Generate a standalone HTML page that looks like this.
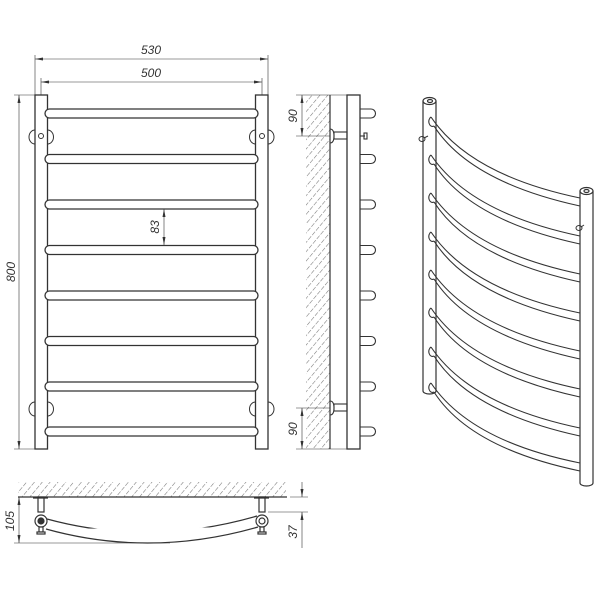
<!DOCTYPE html>
<html><head><meta charset="utf-8"><style>
html,body{margin:0;padding:0;background:#fff;}
svg{display:block;}
text{font-family:"Liberation Sans",sans-serif;font-style:italic;font-size:12px;fill:#333;}
</style></head><body>
<svg width="600" height="600" viewBox="0 0 600 600" xmlns="http://www.w3.org/2000/svg">
<defs>
<pattern id="h" width="6" height="6" patternUnits="userSpaceOnUse" patternTransform="rotate(40)">
<line x1="0" y1="0" x2="0" y2="6" stroke="#777" stroke-width="1.1" stroke-dasharray="3.5,1.5"/>
</pattern>
<marker id="a" markerWidth="8" markerHeight="6" refX="8" refY="3" orient="auto-start-reverse" markerUnits="userSpaceOnUse">
<path d="M0,1.5 L8,3 L0,4.5z" fill="#333"/></marker>
</defs>
<g stroke="#333" fill="none" stroke-width="1">
<line x1="35" y1="95" x2="35" y2="55" stroke-width="0.6"/>
<line x1="268" y1="95" x2="268" y2="55" stroke-width="0.6"/>
<line x1="41" y1="95" x2="41" y2="78" stroke-width="0.6"/>
<line x1="262" y1="95" x2="262" y2="78" stroke-width="0.6"/>
<line x1="35" y1="59" x2="268" y2="59" stroke-width="0.6" marker-start="url(#a)" marker-end="url(#a)"/>
<line x1="41" y1="82" x2="262" y2="82" stroke-width="0.6" marker-start="url(#a)" marker-end="url(#a)"/>
<line x1="14" y1="95" x2="35" y2="95" stroke-width="0.6"/>
<line x1="14" y1="449" x2="35" y2="449" stroke-width="0.6"/>
<line x1="19" y1="95" x2="19" y2="449" stroke-width="0.6" marker-start="url(#a)" marker-end="url(#a)"/>
<line x1="164" y1="209" x2="164" y2="245" stroke-width="0.6" marker-start="url(#a)" marker-end="url(#a)"/>
<rect x="35" y="95" width="12.5" height="354" fill="#fff" stroke-width="1.3"/>
<rect x="255.5" y="95" width="12.5" height="354" fill="#fff" stroke-width="1.3"/>
<g stroke-width="1">
<path d="M35,130 a6,7 0 0 0 0,14 M47.5,130 a6,7 0 0 1 0,14"/>
<circle cx="41" cy="136" r="2.5"/>
<path d="M255.5,130 a6,7 0 0 0 0,14 M268,130 a6,7 0 0 1 0,14"/>
<circle cx="262" cy="136" r="2.5"/>
<path d="M35,402 a6,7 0 0 0 0,14 M47.5,402 a6,7 0 0 1 0,14"/>
<path d="M255.5,402 a6,7 0 0 0 0,14 M268,402 a6,7 0 0 1 0,14"/>
</g>
<g stroke-width="1.3" fill="#fff">
<rect x="45" y="109" width="213" height="9" rx="4.5"/>
<rect x="45" y="154.5" width="213" height="9" rx="4.5"/>
<rect x="45" y="200" width="213" height="9" rx="4.5"/>
<rect x="45" y="245.5" width="213" height="9" rx="4.5"/>
<rect x="45" y="291" width="213" height="9" rx="4.5"/>
<rect x="45" y="336.5" width="213" height="9" rx="4.5"/>
<rect x="45" y="382" width="213" height="9" rx="4.5"/>
<rect x="45" y="427" width="213" height="9" rx="4.5"/>
</g>

<rect x="306" y="95" width="24" height="354" fill="url(#h)" stroke="none"/>
<line x1="330" y1="95" x2="330" y2="449" stroke-width="1.2"/>
<rect x="347" y="95" width="13" height="354" fill="#fff" stroke-width="1.3"/>
<line x1="296" y1="95" x2="347" y2="95" stroke-width="0.6"/>
<line x1="296" y1="136" x2="330" y2="136" stroke-width="0.6"/>
<line x1="296" y1="408" x2="330" y2="408" stroke-width="0.6"/>
<line x1="296" y1="449" x2="347" y2="449" stroke-width="0.6"/>
<line x1="302" y1="95" x2="302" y2="136" stroke-width="0.6" marker-start="url(#a)" marker-end="url(#a)"/>
<line x1="302" y1="408" x2="302" y2="449" stroke-width="0.6" marker-start="url(#a)" marker-end="url(#a)"/>
<g stroke-width="1.1">
<path d="M330,129 q4,0 4,7 q0,7 -4,7"/><rect x="334" y="132" width="13" height="7"/>
<path d="M330,401 q4,0 4,7 q0,7 -4,7"/><rect x="334" y="404" width="13" height="7"/>
<line x1="360" y1="136" x2="365" y2="136"/><rect x="364" y="133" width="3" height="6"/>
</g>
<g stroke-width="1.1">
<path d="M360,109 h11 a4.5,4.5 0 0 1 0,9 h-11"/>
<path d="M360,154.5 h11 a4.5,4.5 0 0 1 0,9 h-11"/>
<path d="M360,200 h11 a4.5,4.5 0 0 1 0,9 h-11"/>
<path d="M360,245.5 h11 a4.5,4.5 0 0 1 0,9 h-11"/>
<path d="M360,291 h11 a4.5,4.5 0 0 1 0,9 h-11"/>
<path d="M360,336.5 h11 a4.5,4.5 0 0 1 0,9 h-11"/>
<path d="M360,382 h11 a4.5,4.5 0 0 1 0,9 h-11"/>
<path d="M360,427 h11 a4.5,4.5 0 0 1 0,9 h-11"/>
</g>

<rect x="18" y="482" width="268" height="15" fill="url(#h)" stroke="none"/>
<line x1="18" y1="497" x2="287" y2="497" stroke-width="1.2"/>
<line x1="14" y1="543" x2="170" y2="543" stroke-width="0.6"/>
<line x1="19" y1="497" x2="19" y2="543" stroke-width="0.6" marker-start="url(#a)" marker-end="url(#a)"/>
<line x1="268" y1="512" x2="308" y2="512" stroke-width="0.6"/>
<line x1="290" y1="497" x2="308" y2="497" stroke-width="0.6"/>
<line x1="302" y1="482" x2="302" y2="497" stroke-width="0.6" marker-end="url(#a)"/>
<line x1="302" y1="548" x2="302" y2="512" stroke-width="0.6" marker-end="url(#a)"/>
<g stroke-width="1.2" fill="#fff">
<path d="M47,519 Q150,547 257,516"/>
<path d="M46,529 Q150,558 258,527"/>
<rect x="38" y="497" width="6" height="15"/>
<rect x="259" y="497" width="6" height="15"/>
<path d="M33,498 h15 M254,498 h15"/>
<circle cx="41" cy="521" r="6"/><circle cx="41" cy="521" r="3" fill="#333"/>
<circle cx="262" cy="521" r="6"/><circle cx="262" cy="521" r="3"/>
<rect x="39" y="527" width="4" height="5"/><rect x="37" y="532" width="8" height="2"/>
<rect x="260" y="527" width="4" height="5"/><rect x="258" y="532" width="8" height="2"/>
</g>

<g stroke-width="1.2" fill="#fff">
<path d="M423,101 V391 a6.5,3 0 0 0 13,0 V101"/>
<ellipse cx="429.5" cy="101" rx="6.5" ry="3.5"/>
<ellipse cx="430" cy="101" rx="2.5" ry="1.5"/>
<path d="M580,191 V483 a6.5,3 0 0 0 13,0 V191"/>
<ellipse cx="586.5" cy="191" rx="6.5" ry="3.5"/>
<ellipse cx="586.5" cy="191" rx="2.5" ry="1.5"/>
</g>
<g stroke-width="1.1" fill="none">
<path d="M431,117 Q470,175 580,198 M434,126 Q470,182 580,206 M431,117 a3,4 0 0 0 3,9"/>
<path d="M431,155 Q470,213 580,236 M434,164 Q470,220 580,244 M431,155 a3,4 0 0 0 3,9"/>
<path d="M431,193 Q470,251 580,274 M434,202 Q470,258 580,282 M431,193 a3,4 0 0 0 3,9"/>
<path d="M431,232 Q470,290 580,313 M434,241 Q470,297 580,321 M431,232 a3,4 0 0 0 3,9"/>
<path d="M431,270 Q470,328 580,351 M434,279 Q470,335 580,359 M431,270 a3,4 0 0 0 3,9"/>
<path d="M431,308 Q470,366 580,389 M434,317 Q470,373 580,397 M431,308 a3,4 0 0 0 3,9"/>
<path d="M431,347 Q470,405 580,428 M434,356 Q470,412 580,436 M431,347 a3,4 0 0 0 3,9"/>
<path d="M431,383 Q470,441 580,463 M434,392 Q470,448 580,471 M431,383 a3,4 0 0 0 3,9"/>
</g>
<g stroke-width="1">
<ellipse cx="422" cy="139" rx="3" ry="2.5"/><line x1="424" y1="138" x2="428" y2="136"/>
<ellipse cx="579" cy="228" rx="3" ry="2.5"/><line x1="581" y1="227" x2="584" y2="225"/>
</g>
</g>
<text x="151" y="54" text-anchor="middle">530</text>
<text x="151" y="77" text-anchor="middle">500</text>
<text transform="translate(15,272) rotate(-90)" text-anchor="middle">800</text>
<text transform="translate(159,227) rotate(-90)" text-anchor="middle">83</text>
<text transform="translate(297,116) rotate(-90)" text-anchor="middle">90</text>
<text transform="translate(297,429) rotate(-90)" text-anchor="middle">90</text>
<text transform="translate(14,521) rotate(-90)" text-anchor="middle">105</text>
<text transform="translate(297,532) rotate(-90)" text-anchor="middle">37</text>
</svg>
</body></html>
